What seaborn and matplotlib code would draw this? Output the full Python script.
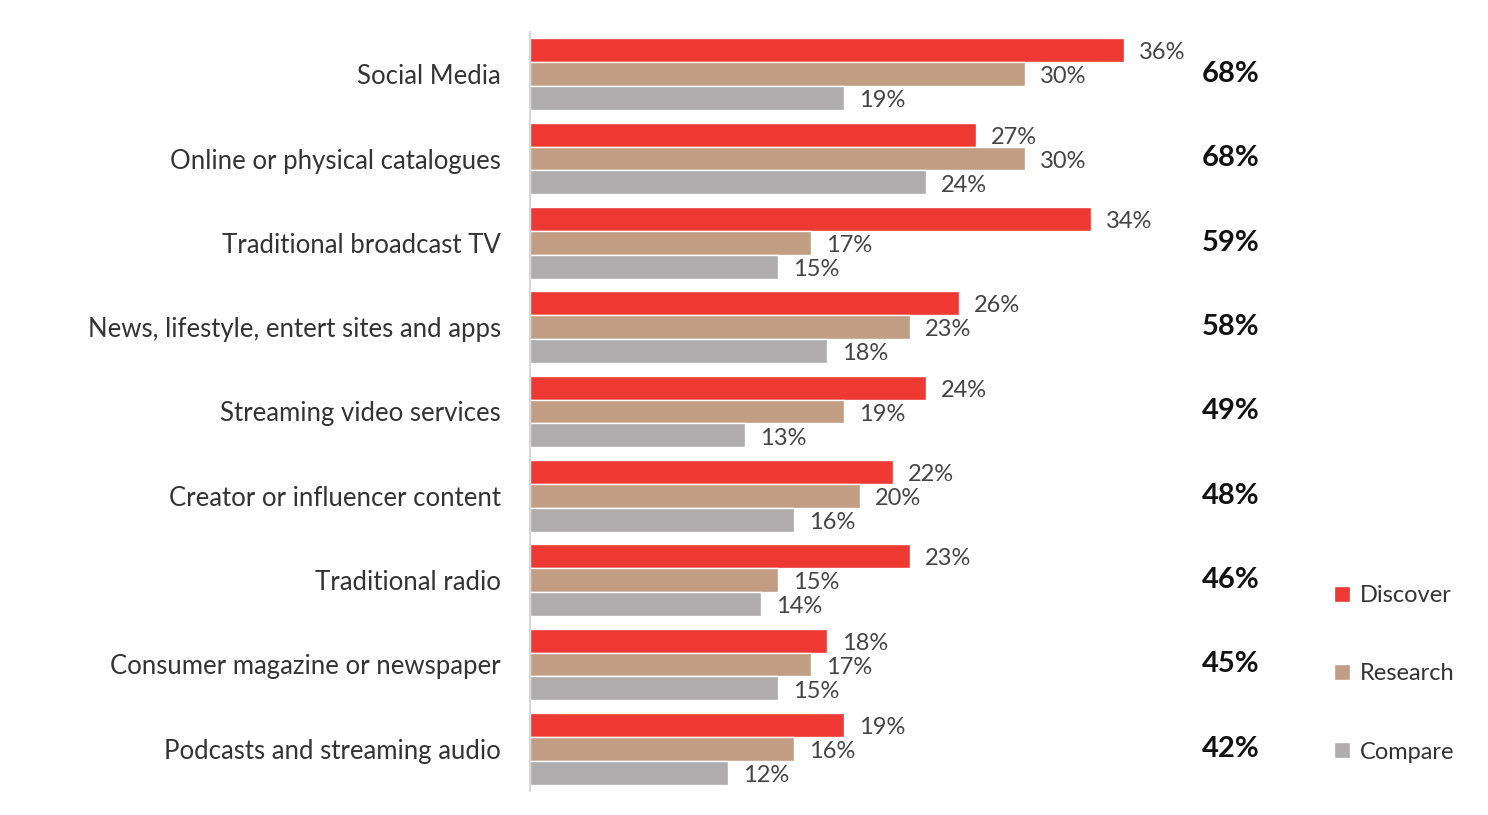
import matplotlib
matplotlib.use("Agg")
import matplotlib.pyplot as plt
from matplotlib.patches import Patch
import pandas as pd
import seaborn as sns

categories = [
    "Social Media",
    "Online or physical catalogues",
    "Traditional broadcast TV",
    "News, lifestyle, entert sites and apps",
    "Streaming video services",
    "Creator or influencer content",
    "Traditional radio",
    "Consumer magazine or newspaper",
    "Podcasts and streaming audio",
]
discover = [36, 27, 34, 26, 24, 22, 23, 18, 19]
research = [30, 30, 17, 23, 19, 20, 15, 17, 16]
compare = [19, 24, 15, 18, 13, 16, 14, 15, 12]
totals = [68, 68, 59, 58, 49, 48, 46, 45, 42]
series = ["Discover", "Research", "Compare"]
palette = {"Discover": "#EE3833", "Research": "#C19D84", "Compare": "#AEACAC"}

df = pd.DataFrame({"category": categories, "Discover": discover,
                   "Research": research, "Compare": compare})
long_df = df.melt(id_vars="category", value_vars=series,
                  var_name="stage", value_name="pct")

sns.set_style("white")
plt.rcParams["font.family"] = ["Lato", "DejaVu Sans"]

fig = plt.figure(figsize=(14.88, 8.15), dpi=100, facecolor="white")
ax = fig.add_axes([530 / 1488, 1 - 791 / 815, 770 / 1488, 759 / 815])

sns.barplot(data=long_df, y="category", x="pct", hue="stage", hue_order=series,
            order=categories, palette=palette, width=0.853, orient="h",
            saturation=1, ax=ax, legend=False)

ax.set_xlim(0, 770 / 16.5)
ax.set_ylim(len(categories) - 0.5, -0.5)
ax.set_xlabel("")
ax.set_ylabel("")
ax.set_xticks([])
ax.tick_params(axis="y", length=0, pad=21, labelsize=18.5, labelcolor="#333333")
for s in ["top", "right", "bottom"]:
    ax.spines[s].set_visible(False)
ax.spines["left"].set_color("#d0d0d0")
ax.spines["left"].set_linewidth(1.2)

for cont in ax.containers:
    anns = ax.bar_label(cont, labels=[f"{int(v)}%" for v in cont.datavalues],
                        padding=11, fontsize=17, color="#444444")
    for a in anns:
        a.xyann = (11, -2)  # sit a touch lower, like the original

for i, t in enumerate(totals):
    ax.text(40.7, i, f"{t}%", ha="left", va="center", fontsize=21,
            fontweight="bold", color="#111111")

handles = [Patch(facecolor=palette[s], label=s) for s in series]
fig.legend(handles=handles, loc="upper left", bbox_to_anchor=(1313 / 1488, 1 - 564 / 815),
           frameon=False, fontsize=17, labelspacing=2.42, handlelength=0.65,
           handleheight=0.65, handletextpad=0.45, labelcolor="#333333")

fig.savefig("out.png", dpi=100, facecolor="white")
